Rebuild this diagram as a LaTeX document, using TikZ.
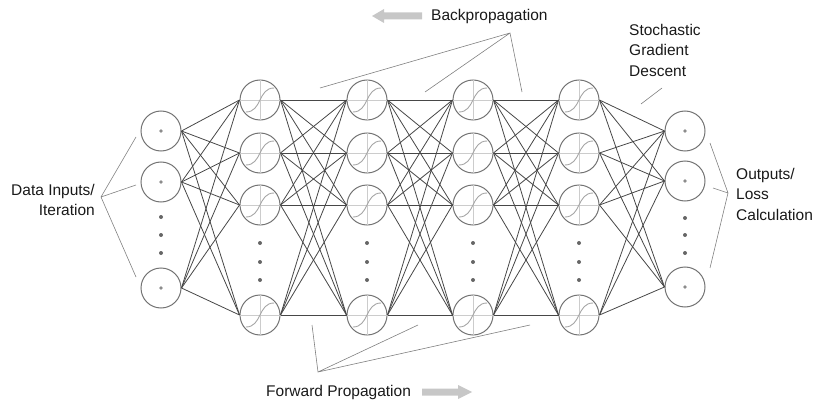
\documentclass[tikz,border=0pt]{standalone}
\usepackage{fontspec}
\setmainfont{Liberation Sans}
\begin{document}
\begin{tikzpicture}[x=1pt,y=-1pt,
  neuron/.style={circle,draw=black!55,line width=1pt,minimum size=40pt,inner sep=0pt},
  conn/.style={draw=black!72,line width=0.8pt},
  lead/.style={draw=black!50,line width=0.6pt},
  lbl/.style={font=\fontsize{15.5}{20.5}\selectfont,text=black!90,inner sep=0pt},
  dot/.style={circle,fill=black!60,inner sep=0pt,minimum size=4pt},
  big/.style={draw=none,fill=black!22}]
\useasboundingbox (0,0) rectangle (822,409);
% input layer
\foreach \j/\y in {1/131,2/182,3/288} {
  \node[neuron] (I\j) at (161,\y) {};
  \fill[black!45] (161,\y) circle (1.8pt);
}
\foreach \y [count=\k] in {217,235,253} \node[dot] (Id\k) at (161,\y) {};
% hidden layers
\foreach \i/\x in {1/260,2/367,3/473,4/579} {
  \foreach \j/\y in {1/100,2/153,3/205,4/315} {
    \node[neuron] (H\i-\j) at (\x,\y) {};
    \draw[black!20,line width=0.6pt] (\x-20,\y) -- (\x+20,\y) (\x,\y-20) -- (\x,\y+20);
    \draw[black!35,line width=0.9pt] (\x-14,\y+12) .. controls (\x+2,\y+12) and (\x-2,\y-12) .. (\x+14,\y-12);
  }
  \foreach \y [count=\k] in {243,262,280} \node[dot] (Hd\i-\k) at (\x,\y) {};
}
% output layer
\foreach \j/\y in {1/131,2/181,3/287} {
  \node[neuron] (O\j) at (685,\y) {};
  \fill[black!45] (685,\y) circle (1.8pt);
}
\foreach \y [count=\k] in {218,235,253} \node[dot] (Od\k) at (685,\y) {};
% connections
\foreach \a in {1,2,3} \foreach \b in {1,2,3,4} \draw[conn] (I\a.east) -- (H1-\b.west);
\foreach \i [evaluate=\i as \n using int(\i+1)] in {1,2,3}
  \foreach \a in {1,2,3,4} \foreach \b in {1,2,3,4} \draw[conn] (H\i-\a.east) -- (H\n-\b.west);
\foreach \a in {1,2,3,4} \foreach \b in {1,2,3} \draw[conn] (H4-\a.east) -- (O\b.west);
% labels
\node[lbl,align=right,anchor=east] (din) at (95,200) {Data Inputs/\\Iteration};
\coordinate (dA) at (101,197);
\coordinate (d1) at (136,137); \coordinate (d2) at (136,185); \coordinate (d3) at (136,277);
\draw[lead] (d1) -- (dA) -- (d3) (dA) -- (d2);

\node[lbl,align=left,anchor=west] (out) at (736,194) {Outputs/\\Loss\\Calculation};
\coordinate (oA) at (728,193);
\coordinate (o1) at (710,143); \coordinate (o2) at (713,188); \coordinate (o3) at (710,268);
\draw[lead] (o1) -- (oA) -- (o3) (oA) -- (o2);

\node[lbl,anchor=west] (bp) at (431,16) {Backpropagation};
\draw[big] (372,16) -- (384,9) -- (384,12.5) -- (422,12.5) -- (422,19.5) -- (384,19.5) -- (384,23) -- cycle;
\coordinate (bA) at (510,33);
\coordinate (b1) at (320,88); \coordinate (b2) at (425,92); \coordinate (b3) at (522,92);
\draw[lead] (b1) -- (bA) -- (b3) (bA) -- (b2);

\node[lbl,align=left,anchor=west] (sgd) at (629,50) {Stochastic\\Gradient\\Descent};
\coordinate (s1) at (641,104); \coordinate (s2) at (662,88);
\draw[lead] (s1) -- (s2);

\node[lbl,anchor=west] (fp) at (266,392) {Forward Propagation};
\draw[big] (422,388.5) -- (458,388.5) -- (458,385) -- (472,392) -- (458,399) -- (458,395.5) -- (422,395.5) -- cycle;
\coordinate (fA) at (318,372);
\coordinate (f1) at (312,325); \coordinate (f2) at (418,325); \coordinate (f3) at (530,325);
\draw[lead] (f1) -- (fA) -- (f3) (fA) -- (f2);
\end{tikzpicture}
\end{document}
